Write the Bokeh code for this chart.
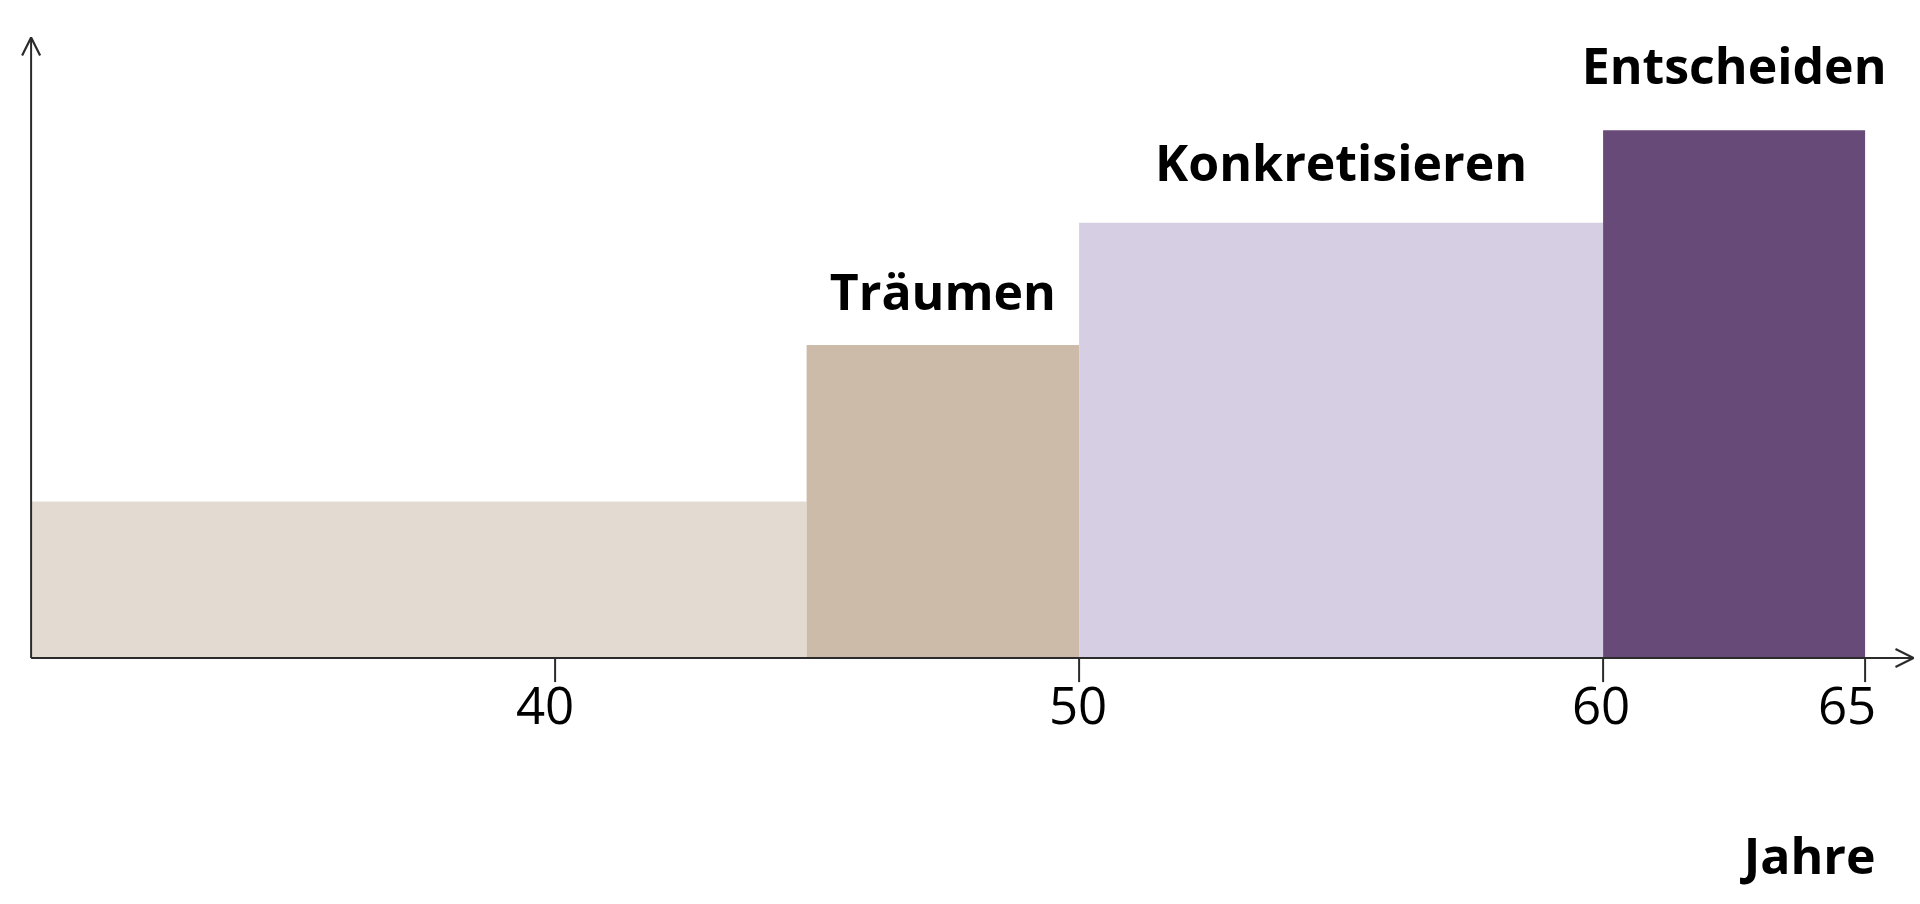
from bokeh.plotting import figure
from bokeh.models import ColumnDataSource, Range1d, Arrow, OpenHead
from bokeh.core.properties import value
from bokeh.embed import file_html
from bokeh.resources import INLINE

# ---- data ----
phase_start = [30, 44.8, 50, 60]
phase_end = [44.8, 50, 60, 65]
phase_height = [1.0, 2.0, 2.78, 3.37]
phase_label = ["", "Träumen", "Konkretisieren", "Entscheiden"]
tick_years = [40, 50, 60, 65]
tick_text = ["40", "50", "60", "65"]
x_axis_title = "Jahre"

# ---- styles / layout ----
bar_colors = ["#e3dbd1", "#ccbba9", "#d6cee3", "#684a78"]
label_offset = [-60, -54, -61, -65]      # px above bar top (text baseline)
tick_label_nudge = [-10, -1, -2, -18]    # px, horizontal nudges seen in the original
axis_color = "#2b2b2b"
FONT = "Open Sans"

W, H = 1920, 888
PX_PER_YEAR = 52.4
PX_PER_UNIT = 156.6
ORIGIN_X = 30.6      # canvas px of x=30
ORIGIN_Y = 657.6     # canvas px of y=0 (from top)
x0 = 30 - ORIGIN_X / PX_PER_YEAR
y1 = ORIGIN_Y / PX_PER_UNIT
y0 = -(H - ORIGIN_Y) / PX_PER_UNIT
x_end = x0 + W / PX_PER_YEAR

p = figure(width=W, height=H, output_backend="svg", toolbar_location=None,
           x_range=Range1d(x0, x_end), y_range=Range1d(y0, y1),
           min_border=0)
p.outline_line_color = None
p.xaxis.visible = False
p.yaxis.visible = False
p.xgrid.visible = False
p.ygrid.visible = False
p.background_fill_color = "white"
p.border_fill_color = "white"

src = ColumnDataSource(dict(left=phase_start, right=phase_end, top=phase_height,
                            bottom=[0] * len(phase_start), color=bar_colors,
                            label=phase_label, yoff=label_offset,
                            center=[(a + b) / 2 for a, b in zip(phase_start, phase_end)]))
p.quad(left="left", right="right", top="top", bottom="bottom", fill_color="color",
       line_color=None, source=src)

p.text(x="center", y="top", text="label", source=src, y_offset="yoff",
       text_align="center", text_baseline="alphabetic",
       text_font=value(FONT), text_font_size=value("50px"), text_font_style="bold",
       text_color="black")

# ticks (24 px long, below the axis) and tick labels
tick_len = 24 / PX_PER_UNIT
tsrc = ColumnDataSource(dict(x=tick_years, y=[0] * len(tick_years),
                             y2=[-tick_len] * len(tick_years), text=tick_text,
                             nudge=tick_label_nudge))
p.segment(x0="x", y0="y", x1="x", y1="y2", source=tsrc, line_color=axis_color,
          line_width=2)
p.text(x="x", y="y", text="text", source=tsrc, x_offset="nudge", y_offset=47,
       text_align="center", text_baseline="alphabetic",
       text_font=value(FONT), text_font_size=value("51px"), text_color="black")

# axis lines with open arrow heads
p.add_layout(Arrow(x_start=30, y_start=0, x_end=30 + (1913 - ORIGIN_X) / PX_PER_YEAR, y_end=0,
                   line_color=axis_color, line_width=2,
                   end=OpenHead(size=18, line_color=axis_color, line_width=2.2)))
p.add_layout(Arrow(x_start=30, y_start=0, x_end=30, y_end=(ORIGIN_Y - 37) / PX_PER_UNIT,
                   line_color=axis_color, line_width=2,
                   end=OpenHead(size=18, line_color=axis_color, line_width=2.2)))

# axis title
p.text(x=[65.2], y=[0], text=[x_axis_title], y_offset=197,
       text_align="right", text_baseline="alphabetic",
       text_font=value(FONT), text_font_size=value("50px"), text_font_style="bold",
       text_color="black")

open("out.html", "w").write(file_html(p, INLINE))
